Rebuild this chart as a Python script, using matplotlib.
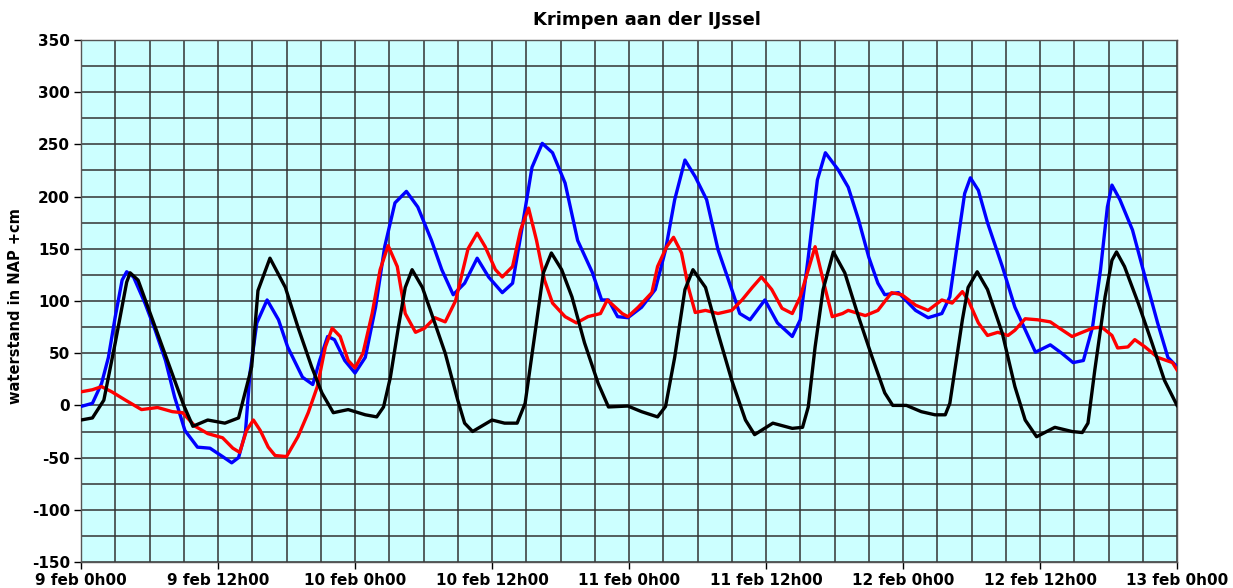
import matplotlib
matplotlib.use("Agg")
import matplotlib.pyplot as plt
from matplotlib.ticker import MultipleLocator

plt.rcParams["axes.unicode_minus"] = False

# hours since 9 feb 0h00, waterstand in cm NAP
black_h = [0, 1, 2, 3, 4, 4.3, 5, 6, 7, 8, 9, 9.8, 11.1, 12.6, 13.8, 14.95, 15.5, 16.55,
           17.9, 19, 20.2, 21.1, 22.1, 23.4, 24.9, 25.9, 26.5, 27.1, 27.8, 28.4, 29, 29.9,
           30.7, 31.9, 33, 33.6, 34.3, 36, 37.1, 38.2, 38.9, 39.8, 40.5, 41.2, 42.1, 43,
           44.1, 45.3, 46.2, 47.9, 49.1, 50.5, 51.2, 52, 52.9, 53.6, 54.7, 55.8, 57, 58.2,
           59, 60.6, 62.3, 63.2, 63.7, 64.3, 65, 65.9, 66.9, 68.1, 69.3, 70.4, 71.1, 72.3,
           73.6, 74.8, 75.7, 76.1, 76.5, 77.2, 77.7, 78.5, 79.4, 80.7, 81.8, 82.7, 83.7,
           85.3, 86.8, 87.7, 88.2, 88.8, 89.7, 90.3, 90.7, 91.4, 92.6, 93.8, 94.9, 96]
black_v = [-14, -12, 5, 60, 118, 127, 120, 90, 60, 30, 0, -20, -14, -17, -12, 37, 110, 141,
           113, 75, 37, 12, -7, -4, -9, -11, -1.5, 27, 75, 113, 130, 113,
           88, 50, 5, -17, -25, -14, -17, -17, 2, 72, 127, 146, 130, 104,
           60, 21, -1.5, -0.6, -6, -11, -1, 46, 111, 130, 113, 69, 24, -14,
           -28, -17, -22, -21, -1.5, 56, 111, 147, 127, 85, 46, 12, 0, 0,
           -6, -9, -9, 2, 31, 82, 113, 128, 111, 69, 18, -14, -30,
           -21, -25, -26, -17, 34, 104, 139, 147, 133, 98, 60, 24, 0]

blue_h = [0, 1, 1.8, 2.4, 3, 3.6, 4, 4.6, 5.6, 6.5, 7.4, 8.2, 9.1, 10.2, 11.3, 12.4, 13.2,
          13.8, 14.4, 14.8, 15.4, 16.3, 17.3, 18.1, 19.4, 20.3, 20.9, 21.6, 22.2, 23.1, 24,
          24.9, 25.8, 26.6, 27.5, 28.5, 29.5, 30.7, 31.6, 32.6, 33.6, 34.7, 35.7, 36.9,
          37.8, 38.6, 39.5, 40.4, 41.3, 42.4, 43.5, 44.8, 45.6, 46.2, 47, 47.9, 49.1, 50.3,
          51.2, 52, 52.9, 53.8, 54.8, 55.8, 57, 57.7, 58.6, 59.9, 61, 62.3, 63, 63.7, 64.5,
          65.2, 66.3, 67.2, 68.1, 69, 69.8, 70.4, 71.6, 73.1, 74.2, 75.4, 76.1, 76.8, 77.4,
          77.9, 78.6, 79.4, 80.7, 81.8, 83.6, 84.9, 85.9, 86.9, 87.8, 88.6, 89.3, 89.9,
          90.3, 91, 92.1, 93.2, 94.3, 95.2, 96]
blue_v = [-1, 2, 21, 46, 85, 120, 128, 123, 98, 72, 43, 8, -24, -40, -41, -49, -55,
          -50, -26, 31, 79, 101, 82, 56, 27, 20, 43, 66, 63, 43, 31,
          46, 94, 152, 194, 205, 190, 158, 130, 106, 117, 141, 123, 108,
          117, 168, 228, 251, 242, 213, 158, 127, 101, 101, 85, 84, 94, 111,
          149, 197, 235, 219, 197, 149, 111, 88, 82, 101, 79, 66, 82, 142, 216,
          242, 226, 209, 178, 142, 117, 106, 108, 91, 84, 88, 104, 158, 203,
          218, 206, 175, 133, 94, 51, 58, 50, 41, 43, 75, 130, 190,
          211, 197, 168, 123, 79, 46, 37]

red_h = [0, 1, 1.8, 2.7, 3.9, 5.3, 6.7, 8, 8.9, 10, 11.1, 12.4, 13.3, 13.9, 14.5, 15.1,
         15.7, 16.4, 17, 18, 19, 19.9, 20.7, 21.4, 22, 22.7, 23.4, 24, 24.7, 25.5, 26.2,
         26.9, 27.7, 28.4, 29.3, 30.1, 31, 31.9, 32.8, 33.9, 34.7, 35.4, 36.3, 36.9, 37.8,
         38.5, 39.2, 39.9, 40.6, 41.3, 42.4, 43.4, 44.4, 45.5, 46.1, 46.6, 47.4, 47.9,
         48.8, 50, 50.5, 51.3, 51.9, 52.6, 53.2, 53.8, 54.7, 55.8, 57, 57.9, 58.8, 59.6,
         60.5, 61.4, 62.3, 63, 63.7, 64.3, 65, 65.8, 66.7, 67.2, 68.7, 69.8, 71, 71.9,
         73.1, 74.2, 75.4, 76.3, 77.2, 77.7, 78.6, 79.4, 80.3, 81.2, 81.8, 82.7, 83.8,
         84.9, 85.7, 86.8, 87.7, 88.6, 89.4, 90.3, 90.8, 91.7, 92.3, 93.2, 94.3, 95.6, 96]
red_v = [13, 15, 18, 13, 5, -4, -2, -6, -7, -20, -27, -31, -41, -45, -24, -14,
         -24, -40, -48, -49, -30, -7, 18, 56, 74, 66, 43, 36, 50, 88, 130,
         153, 133, 88, 70, 74, 84, 80, 100, 150, 165, 152, 130, 123, 133,
         168, 189, 158, 120, 98, 85, 79, 85, 88, 101, 96, 88, 85,
         94, 108, 133, 152, 161, 146, 113, 89, 91, 88, 91, 101, 113, 123,
         111, 93, 88, 104, 130, 152, 120, 85, 88, 91, 86, 91, 108, 106,
         96, 91, 101, 98, 109, 101, 79, 67, 70, 67, 72, 83, 82,
         80, 74, 66, 70, 74, 75, 67, 55, 56, 63, 56, 46, 41, 34]

xtick_pos = [0, 12, 24, 36, 48, 60, 72, 84, 96]
xtick_labels = ["9 feb 0h00", "9 feb 12h00", "10 feb 0h00", "10 feb 12h00", "11 feb 0h00",
                "11 feb 12h00", "12 feb 0h00", "12 feb 12h00", "13 feb 0h00"]

fig = plt.figure(figsize=(12.33, 5.88), dpi=100)
ax = fig.add_axes([0.0657, 0.0442, 0.8889, 0.8878])
ax.set_facecolor("#ccffff")

ax.plot(blue_h, blue_v, color="#0000ff", lw=2.4, zorder=3)
ax.plot(red_h, red_v, color="#ff0000", lw=2.4, zorder=4)
ax.plot(black_h, black_v, color="black", lw=2.4, zorder=5)

ax.set_xlim(0, 96)
ax.set_ylim(-150, 350)
ax.set_xticks(xtick_pos)
ax.set_xticklabels(xtick_labels, fontsize=11, fontweight="bold")
ax.yaxis.set_major_locator(MultipleLocator(50))
ax.xaxis.set_minor_locator(MultipleLocator(3))
ax.yaxis.set_minor_locator(MultipleLocator(25))
for lab in ax.get_yticklabels():
    lab.set_fontsize(11)
    lab.set_fontweight("bold")
ax.tick_params(which="major", direction="out", length=5, width=1, pad=3)
ax.tick_params(which="minor", length=0)
ax.grid(which="both", color="#333333", lw=1.1, zorder=1)
ax.set_axisbelow(True)
for s in ax.spines.values():
    s.set_color("#555555")
    s.set_linewidth(1)

ax.set_ylabel("waterstand in NAP +cm", fontsize=10.5, fontweight="bold")
ax.yaxis.set_label_coords(-0.053, 0.49)
fig.text(647 / 1233, 1 - 20 / 588, "Krimpen aan der IJssel", ha="center", va="center",
         fontsize=13, fontweight="bold")

fig.savefig("out.png", dpi=100)
